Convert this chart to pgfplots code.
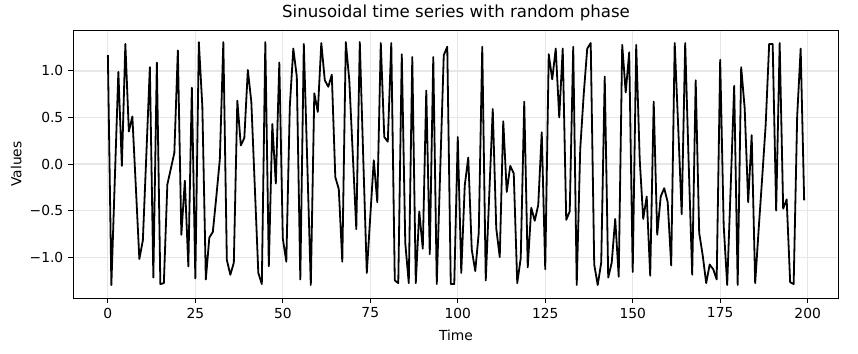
\documentclass[border=0pt]{standalone}
\usepackage{pgfplots}
\pgfplotsset{compat=1.18}
\usepackage{pgfplotstable}
\usepackage{fontspec}
\setmainfont{DejaVu Sans}
\pgfplotstableread{
t v
0 1.17
1 -1.30
2 -0.15
3 0.99
4 -0.02
5 1.29
6 0.35
7 0.51
8 -0.25
9 -1.02
10 -0.82
11 0.10
12 1.04
13 -1.22
14 1.09
15 -1.29
16 -1.28
17 -0.22
18 -0.05
19 0.12
20 1.22
21 -0.76
22 -0.18
23 -1.10
24 0.82
25 -1.23
26 1.31
27 0.62
28 -1.24
29 -0.79
30 -0.73
31 -0.35
32 0.05
33 1.31
34 -1.03
35 -1.19
36 -1.06
37 0.68
38 0.20
39 0.28
40 1.01
41 0.67
42 -0.25
43 -1.17
44 -1.29
45 1.31
46 -1.10
47 0.43
48 -0.21
49 1.09
50 -0.80
51 -1.05
52 0.62
53 1.24
54 0.94
55 -1.24
56 1.29
57 0.00
58 -1.30
59 0.76
60 0.56
61 1.30
62 0.90
63 0.83
64 0.96
65 -0.14
66 -0.27
67 -1.05
68 1.31
69 0.90
70 0.10
71 -0.70
72 1.31
73 0.05
74 -1.17
75 -0.56
76 0.04
77 -0.41
78 1.30
79 0.29
80 0.24
81 1.30
82 -1.25
83 -1.28
84 1.18
85 -0.85
86 -1.28
87 1.15
88 -1.28
89 -0.51
90 -0.91
91 0.79
92 -0.97
93 1.15
94 -1.29
95 -0.05
96 1.17
97 1.26
98 -1.29
99 -1.29
100 0.29
101 -1.17
102 -0.23
103 0.07
104 -0.92
105 -1.15
106 -0.74
107 1.26
108 -1.25
109 -0.33
110 0.59
111 -0.69
112 -1.00
113 0.46
114 -0.30
115 -0.02
116 -0.10
117 -1.28
118 -1.01
119 0.67
120 -1.11
121 -0.47
122 -0.61
123 -0.44
124 0.34
125 -1.13
126 1.18
127 0.91
128 1.24
129 0.50
130 1.24
131 -0.60
132 -0.51
133 1.26
134 -1.30
135 0.16
136 0.75
137 1.24
138 1.30
139 -1.08
140 -1.30
141 -1.06
142 0.94
143 -1.22
144 -1.06
145 -0.59
146 -1.21
147 1.28
148 0.77
149 1.20
150 -1.16
151 1.28
152 0.05
153 -0.59
154 -0.35
155 -1.20
156 0.67
157 -0.76
158 -0.35
159 -0.26
160 -0.41
161 -1.09
162 1.30
163 0.40
164 -0.54
165 1.30
166 0.00
167 -1.19
168 0.90
169 -0.74
170 -0.98
171 -1.28
172 -1.08
173 -1.13
174 -1.24
175 1.12
176 -0.66
177 -1.30
178 -0.25
179 0.84
180 -1.30
181 1.04
182 0.60
183 -0.41
184 0.31
185 -1.28
186 -0.70
187 -0.15
188 0.42
189 1.29
190 1.29
191 -0.50
192 1.30
193 -0.48
194 -0.38
195 -1.27
196 -1.29
197 0.51
198 1.24
199 -0.39
}\datatable
\definecolor{gridc}{HTML}{E7E7E7}
\begin{document}
\begin{tikzpicture}
\useasboundingbox (-52.6bp,-39.6bp) rectangle (565.2bp,214.6bp);
\begin{axis}[
  at={(0,0)}, anchor=south west,
  scale only axis,
  width=551.5bp, height=193bp,
  xmin=-9.95, xmax=208.95,
  ymin=-1.44, ymax=1.44,
  xtick={0,25,50,75,100,125,150,175,200},
  ytick={-1,-0.5,0,0.5,1},
  yticklabels={−1.0,−0.5,0.0,0.5,1.0},
  /pgf/number format/assume math mode=true,
  tick label style={font=\fontsize{10}{12}\selectfont},
  grid=major,
  major grid style={gridc, line width=0.8bp},
  axis line style={line width=0.7bp},
  tick style={black, line width=0.7bp},
  tick align=outside,
  major tick length=3.5bp,
  xtick pos=bottom, ytick pos=left,
  title={Sinusoidal time series with random phase},
  title style={font=\fontsize{12}{14}\selectfont, yshift=-3bp},
  xlabel={Time}, ylabel={Values},
  label style={font=\fontsize{10}{12}\selectfont},
  xlabel style={yshift=-1.5bp},
  ylabel style={yshift=-1bp},
]
\addplot[black, line width=1.3bp, line join=round] table[x=t, y=v] {\datatable};
\end{axis}
\end{tikzpicture}
\end{document}
